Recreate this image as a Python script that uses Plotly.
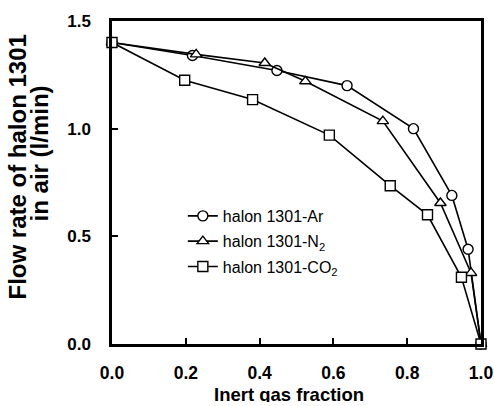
import plotly.graph_objects as go

# Data
x_ar = [0.0, 0.218, 0.447, 0.637, 0.817, 0.921, 0.965, 1.0]
y_ar = [1.40, 1.34, 1.27, 1.20, 1.00, 0.69, 0.44, 0.0]

x_n2 = [0.0, 0.228, 0.414, 0.524, 0.734, 0.890, 0.973, 1.0]
y_n2 = [1.40, 1.345, 1.305, 1.22, 1.035, 0.655, 0.33, 0.0]

x_co2 = [0.0, 0.197, 0.381, 0.589, 0.754, 0.855, 0.947, 1.0]
y_co2 = [1.40, 1.225, 1.135, 0.97, 0.735, 0.60, 0.31, 0.0]

x_ticks = [0.0, 0.2, 0.4, 0.6, 0.8, 1.0]
y_ticks = [0.0, 0.5, 1.0, 1.5]

x_title = "Inert gas fraction"
y_title_lines = ["Flow rate of halon 1301", "in air (l/min)"]

FONT = "Liberation Sans, Arial, sans-serif"

fig = go.Figure()
series = [
    ("halon 1301-Ar", x_ar, y_ar, "circle"),
    ("halon 1301-N<sub>2</sub>", x_n2, y_n2, "triangle-up"),
    ("halon 1301-CO<sub>2</sub>", x_co2, y_co2, "square"),
]
for i, (name, xs, ys, sym) in enumerate(series):
    fig.add_trace(go.Scatter(
        x=xs, y=ys, name=name, mode="lines+markers", legendgroup=f"g{i}",
        line=dict(color="black", width=1.6),
        marker=dict(symbol=sym, size=10, color="white",
                    line=dict(color="black", width=1.4)),
        cliponaxis=False,
    ))

fig.update_layout(
    width=494, height=406,
    margin=dict(l=112, r=13, t=21, b=62),
    paper_bgcolor="white", plot_bgcolor="white",
    font=dict(family=FONT, color="black"),
    showlegend=True,
    legend=dict(x=0.192, y=0.449, xanchor="left", yanchor="top",
                bgcolor="rgba(0,0,0,0)", font=dict(size=16, family=FONT),
                itemwidth=30, tracegroupgap=1.5),
)
fig.update_xaxes(
    range=[0, 1], tickvals=x_ticks, ticktext=[f"{v:.1f}" for v in x_ticks],
    ticks="inside", ticklen=6, tickwidth=2, tickcolor="black",
    showline=True, linewidth=2.5, linecolor="black", mirror=True,
    showgrid=False, zeroline=False, automargin=False,
    tickfont=dict(size=17.5, family=FONT, weight="bold"), ticklabelstandoff=11,
)
fig.update_yaxes(
    range=[0, 1.5], tickvals=y_ticks, ticktext=[f"{v:.1f}" for v in y_ticks],
    ticks="inside", ticklen=6, tickwidth=2, tickcolor="black",
    showline=True, linewidth=2.5, linecolor="black", mirror=True,
    showgrid=False, zeroline=False, automargin=False,
    tickfont=dict(size=17, family=FONT, weight="bold"), ticklabelstandoff=15,
)

# axis titles as annotations for exact placement
fig.add_annotation(text=x_title, xref="paper", yref="paper", x=0.48, y=-0.1845,
                   xanchor="center", yanchor="bottom", showarrow=False,
                   height=16, valign="middle",
                   font=dict(size=18.5, family=FONT, weight="bold"))
fig.add_annotation(text=y_title_lines[0], xref="paper", yref="paper", x=-0.2534, y=0.548,
                   xanchor="center", yanchor="middle", showarrow=False, textangle=-90,
                   font=dict(size=24, family=FONT, weight="bold"))
fig.add_annotation(text=y_title_lines[1], xref="paper", yref="paper", x=-0.197, y=0.591,
                   xanchor="center", yanchor="middle", showarrow=False, textangle=-90,
                   font=dict(size=24, family=FONT, weight="bold"))

fig.write_html("out.html", config={"displayModeBar": False},
               post_script="document.body.style.margin='0';")
